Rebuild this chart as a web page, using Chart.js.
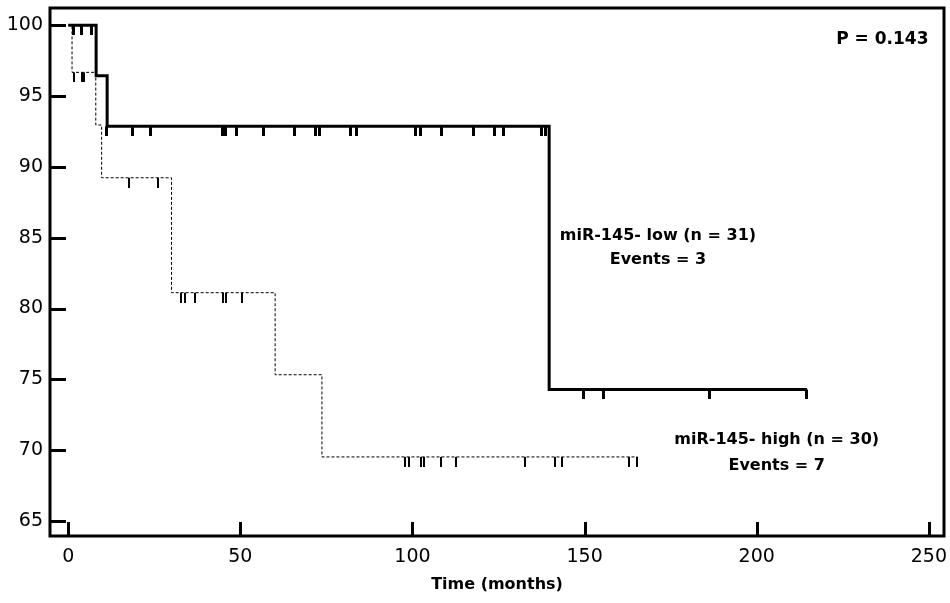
<!DOCTYPE html>
<html>
<head>
<meta charset="utf-8">
<script src="https://cdn.jsdelivr.net/npm/chart.js@4.4.1/dist/chart.umd.min.js"></script>
<style>
  html, body { margin: 0; padding: 0; background: #fff; }
  canvas { display: block; }
</style>
</head>
<body>
<canvas id="kmChart" width="950" height="603"></canvas>
<script>
// Kaplan-Meier: miR-145 low vs high

// steps (time in months, survival %)
const lowTimes = [0, 8.1, 11.3, 139.7, 214.6];
const lowSurv = [100, 96.43, 92.86, 74.29, 74.29];
const highTimes = [0, 1.1, 8.0, 9.7, 30.0, 60.1, 73.7, 165.4];
const highSurv = [100, 96.67, 92.95, 89.23, 81.12, 75.33, 69.53, 69.53];

// censored cases
const lowCensTimes = [1.45, 3.9, 6.8,
  11.0, 18.8, 24.0, 44.8, 45.8, 48.8, 56.7, 65.8, 71.9, 73.0, 81.9, 83.7, 100.9, 102.4, 108.5, 117.7, 123.7, 126.5, 137.5, 138.5,
  149.8, 155.6, 186.3, 214.6];
const lowCensSurv = [100, 100, 100,
  92.86, 92.86, 92.86, 92.86, 92.86, 92.86, 92.86, 92.86, 92.86, 92.86, 92.86, 92.86, 92.86, 92.86, 92.86, 92.86, 92.86, 92.86, 92.86, 92.86,
  74.29, 74.29, 74.29, 74.29];
const highCensTimes = [1.65, 3.9, 4.5, 17.7, 26.0, 32.8, 33.8, 36.7, 45.0, 45.9, 50.6,
  97.8, 98.9, 102.4, 103.3, 108.4, 112.5, 132.8, 141.4, 143.3, 163.0, 165.3];
const highCensSurv = [96.67, 96.67, 96.67, 89.23, 89.23, 81.12, 81.12, 81.12, 81.12, 81.12, 81.12,
  69.53, 69.53, 69.53, 69.53, 69.53, 69.53, 69.53, 69.53, 69.53, 69.53, 69.53];

const xTickVals = [0, 50, 100, 150, 200, 250];
const yTickVals = [65, 70, 75, 80, 85, 90, 95, 100];

const pValueText = 'P = 0.143';
const lowLabel = ['miR-145- low (n = 31)', 'Events = 3'];
const highLabel = ['miR-145- high (n = 30)', 'Events = 7'];

const toPoints = (xs, ys) => xs.map((t, i) => ({ x: t, y: ys[i] }));

// little downward tick used as censor mark
function censorMark(w, len) {
    const c = document.createElement('canvas');
    c.width = w;
    c.height = len * 2;
    const g = c.getContext('2d');
    g.fillStyle = '#000';
    g.fillRect(0, len, w, len);
    return c;
}

const FONT = '"DejaVu Sans", "Liberation Sans", Arial, sans-serif';

const frameAndText = {
    id: 'frameAndText',
    afterDraw(chart) {
        const { ctx, chartArea: a, scales: { x, y } } = chart;
        ctx.save();
        ctx.strokeStyle = '#000';
        ctx.lineWidth = 3;
        ctx.strokeRect(a.left, a.top, a.right - a.left, a.bottom - a.top);

        // inward tick marks
        ctx.beginPath();
        yTickVals.forEach(v => {
            const py = Math.round(y.getPixelForValue(v)) + 0.5;
            ctx.moveTo(a.left, py);
            ctx.lineTo(a.left + 16, py);
        });
        xTickVals.forEach(v => {
            const px = Math.round(x.getPixelForValue(v)) + 0.5;
            ctx.moveTo(px, a.bottom);
            ctx.lineTo(px, a.bottom - 14);
        });
        ctx.stroke();

        ctx.fillStyle = '#000';
        ctx.font = 'bold 17px ' + FONT;
        ctx.textAlign = 'right';
        ctx.textBaseline = 'middle';
        ctx.fillText(pValueText, x.getPixelForValue(249.9), y.getPixelForValue(98.98));

        ctx.font = 'bold 16px ' + FONT;
        ctx.textAlign = 'center';
        ctx.fillText(lowLabel[0], x.getPixelForValue(171.3), y.getPixelForValue(85.13));
        ctx.fillText(lowLabel[1], x.getPixelForValue(171.3), y.getPixelForValue(83.44));
        ctx.fillText(highLabel[0], x.getPixelForValue(205.8), y.getPixelForValue(70.73));
        ctx.fillText(highLabel[1], x.getPixelForValue(205.8), y.getPixelForValue(68.9));
        ctx.restore();
    }
};

new Chart(document.getElementById('kmChart'), {
    type: 'line',
    plugins: [frameAndText],
    data: {
        datasets: [
            {
                label: 'low',
                data: toPoints(lowTimes, lowSurv),
                stepped: 'before',
                borderColor: '#000',
                borderWidth: 3,
                pointRadius: 0,
                fill: false
            },
            {
                label: 'low censored',
                data: toPoints(lowCensTimes, lowCensSurv),
                showLine: false,
                pointStyle: censorMark(3, 10),
                pointRadius: 5
            },
            {
                label: 'high',
                data: toPoints(highTimes, highSurv),
                stepped: 'before',
                borderColor: '#000',
                borderWidth: 1,
                borderDash: [3, 2],
                pointRadius: 0,
                fill: false
            },
            {
                label: 'high censored',
                data: toPoints(highCensTimes, highCensSurv),
                showLine: false,
                pointStyle: censorMark(2, 10),
                pointRadius: 5
            }
        ]
    },
    options: {
        responsive: false,
        animation: false,
        devicePixelRatio: 1,
        layout: { padding: { top: 8, right: 3, left: 0, bottom: 0 } },
        plugins: {
            legend: { display: false },
            tooltip: { enabled: false }
        },
        scales: {
            x: {
                type: 'linear',
                min: -5.3,
                max: 254.4,
                grid: { display: false, drawTicks: false },
                border: { display: false },
                afterBuildTicks: s => { s.ticks = xTickVals.map(v => ({ value: v })); },
                afterFit: s => { s.height = 67; s.paddingLeft = 0; s.paddingRight = 0; },
                ticks: {
                    color: '#000',
                    padding: 10,
                    maxRotation: 0,
                    font: { family: FONT, size: 19 }
                },
                title: {
                    display: true,
                    text: 'Time (months)',
                    color: '#000',
                    font: { family: FONT, size: 16, weight: 'bold' },
                    padding: { top: 0, bottom: 9 }
                }
            },
            y: {
                type: 'linear',
                min: 63.95,
                max: 101.21,
                grid: { display: false, drawTicks: false },
                border: { display: false },
                afterBuildTicks: s => { s.ticks = yTickVals.map(v => ({ value: v })); },
                afterFit: s => { s.width = 50; s.paddingTop = 0; s.paddingBottom = 0; },
                ticks: {
                    color: '#000',
                    padding: 7,
                    font: { family: FONT, size: 19 }
                }
            }
        }
    }
});
</script>
</body>
</html>
